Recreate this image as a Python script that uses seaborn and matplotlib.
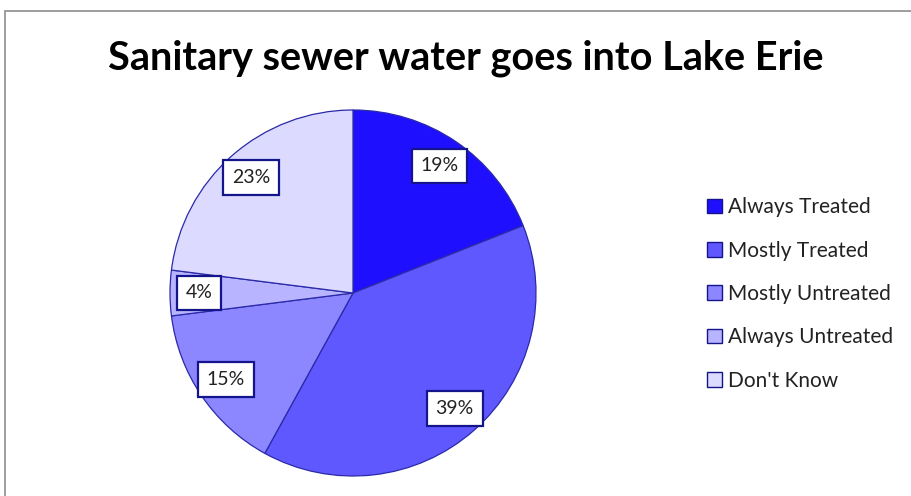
import matplotlib
matplotlib.use("Agg")
import matplotlib.pyplot as plt
import seaborn as sns
from matplotlib.patches import Rectangle

categories = ["Always Treated", "Mostly Treated", "Mostly Untreated", "Always Untreated", "Don't Know"]
values = [19, 39, 15, 4, 23]
colors = ["#1F0FFF", "#6058FF", "#8C86FF", "#B8B4FF", "#DCDAFF"]
title = "Sanitary sewer water goes into Lake Erie"

sns.set_theme(style="white")
plt.rcParams['font.family'] = ['Lato', 'DejaVu Sans']

fig = plt.figure(figsize=(9.11, 4.96), dpi=100)
fig.patch.set_facecolor("white")

# outer chart border
fig.patches.append(Rectangle((5/911, -0.1), 1.2, (496-11)/496 + 0.1, transform=fig.transFigure,
                             fill=False, edgecolor="#8c8c8c", linewidth=1.2, zorder=0))

# pie axes: center (353,293), radius ~183 px
r = 183
cx, cy = 353, 293
ax = fig.add_axes([(cx - r)/911, (496 - cy - r)/496, 2*r/911, 2*r/496])
wedges, texts, autotexts = ax.pie(values, colors=colors, startangle=90, counterclock=False,
                                  autopct=lambda p: f"{p:.0f}%", pctdistance=0.84,
                                  wedgeprops=dict(edgecolor="#2a2aa8", linewidth=0.9),
                                  textprops=dict(fontsize=14, color="#222222"))
for t in autotexts:
    t.set_bbox(dict(boxstyle="square,pad=0.45", facecolor="white", edgecolor="#14148c", linewidth=1.6))
ax.set_xlim(-1, 1)
ax.set_ylim(-1, 1)
ax.set_aspect("auto")

fig.text(466/911, 1 - 58/496, title, ha="center", va="center", fontsize=28.5, fontweight="bold", color="black")

leg = fig.legend(wedges, categories, loc="center left", bbox_to_anchor=(699/911, 1 - 294/496),
                 frameon=False, fontsize=15, handlelength=0.7, handleheight=0.7,
                 handletextpad=0.3, labelspacing=1.12, borderaxespad=0)
for h in leg.legend_handles:
    h.set_edgecolor("#14148c")
    h.set_linewidth(1.0)
for t in leg.get_texts():
    t.set_color("#222222")

fig.savefig("out.png", dpi=100, facecolor="white")
